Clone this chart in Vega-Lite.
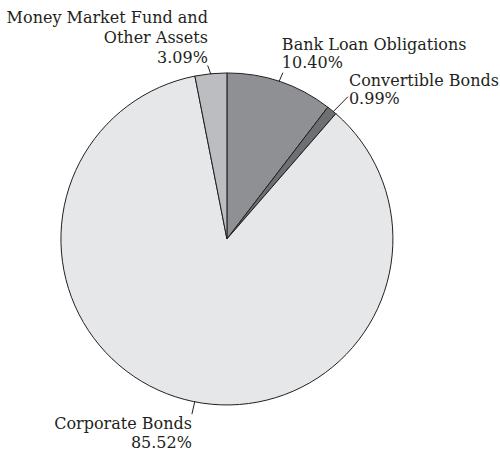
{
  "$schema": "https://vega.github.io/schema/vega-lite/v6.json",
  "width": 500,
  "height": 451,
  "autosize": {"type": "fit", "contains": "padding"},
  "padding": 0,
  "background": "white",
  "config": {"view": {"stroke": null}},
  "datasets": {
    "slices": [
      {"category": "Bank Loan Obligations", "share": 10.40, "rank": 1},
      {"category": "Convertible Bonds", "share": 0.99, "rank": 2},
      {"category": "Corporate Bonds", "share": 85.52, "rank": 3},
      {"category": "Money Market Fund and Other Assets", "share": 3.09, "rank": 4}
    ],
    "leaders": [
      {"category": "Money Market Fund and Other Assets", "x": -9.6, "y": 99.5, "x2": -11.6, "y2": 105.0},
      {"category": "Bank Loan Obligations", "x": 31.3, "y": 95.0, "x2": 33.7, "y2": 100.6},
      {"category": "Convertible Bonds", "x": 63.9, "y": 76.9, "x2": 72.9, "y2": 86.1},
      {"category": "Corporate Bonds", "x": -19.3, "y": -98.1, "x2": -21.1, "y2": -106.0}
    ],
    "labels": [
      {"category": "Money Market Fund and Other Assets", "text": "Money Market Fund and\nOther Assets\n3.09%", "x": -11.45, "y": 130.4},
      {"category": "Bank Loan Obligations", "text": "Bank Loan Obligations\n10.40%", "x": 33.1, "y": 114.3},
      {"category": "Convertible Bonds", "text": "Convertible Bonds\n0.99%", "x": 73.5, "y": 92.5},
      {"category": "Corporate Bonds", "text": "Corporate Bonds\n85.52%", "x": -21.1, "y": -115.1}
    ]
  },
  "layer": [
    {
      "data": {"name": "slices"},
      "mark": {"type": "arc", "outerRadius": 166, "stroke": "#231f20", "strokeWidth": 1},
      "encoding": {
        "x": {"datum": 0, "type": "quantitative", "scale": {"domain": [-136.7, 164.5], "nice": false, "zero": false}, "axis": null},
        "y": {"datum": 0, "type": "quantitative", "scale": {"domain": [-127.1, 144.6], "nice": false, "zero": false}, "axis": null},
        "theta": {"field": "share", "type": "quantitative", "stack": true},
        "order": {"field": "rank", "type": "quantitative"},
        "color": {
          "field": "category",
          "type": "nominal",
          "scale": {
            "domain": ["Bank Loan Obligations", "Convertible Bonds", "Corporate Bonds", "Money Market Fund and Other Assets"],
            "range": ["#8f9093", "#6e6f72", "#e6e7e8", "#bcbdc0"]
          },
          "legend": null
        }
      }
    },
    {
      "data": {"name": "leaders"},
      "mark": {"type": "rule", "color": "#231f20", "strokeWidth": 1},
      "encoding": {
        "x": {"field": "x", "type": "quantitative", "scale": {"domain": [-136.7, 164.5], "nice": false, "zero": false}, "axis": null},
        "y": {"field": "y", "type": "quantitative", "scale": {"domain": [-127.1, 144.6], "nice": false, "zero": false}, "axis": null},
        "x2": {"field": "x2"},
        "y2": {"field": "y2"}
      }
    },
    {
      "data": {"name": "labels"},
      "transform": [{"filter": "datum.category === 'Money Market Fund and Other Assets'"}],
      "mark": {"type": "text", "align": "right", "baseline": "alphabetic", "font": "DejaVu Serif", "fontSize": 16, "fill": "#231f20", "lineBreak": "\n", "lineHeight": 20},
      "encoding": {
        "x": {"field": "x", "type": "quantitative", "scale": {"domain": [-136.7, 164.5], "nice": false, "zero": false}, "axis": null},
        "y": {"field": "y", "type": "quantitative", "scale": {"domain": [-127.1, 144.6], "nice": false, "zero": false}, "axis": null},
        "text": {"field": "text"}
      }
    },
    {
      "data": {"name": "labels"},
      "transform": [{"filter": "datum.category === 'Corporate Bonds'"}],
      "mark": {"type": "text", "align": "right", "baseline": "alphabetic", "font": "DejaVu Serif", "fontSize": 16, "fill": "#231f20", "lineBreak": "\n", "lineHeight": 18.5},
      "encoding": {
        "x": {"field": "x", "type": "quantitative", "scale": {"domain": [-136.7, 164.5], "nice": false, "zero": false}, "axis": null},
        "y": {"field": "y", "type": "quantitative", "scale": {"domain": [-127.1, 144.6], "nice": false, "zero": false}, "axis": null},
        "text": {"field": "text"}
      }
    },
    {
      "data": {"name": "labels"},
      "transform": [{"filter": "datum.category === 'Bank Loan Obligations' || datum.category === 'Convertible Bonds'"}],
      "mark": {"type": "text", "align": "left", "baseline": "alphabetic", "font": "DejaVu Serif", "fontSize": 16, "fill": "#231f20", "lineBreak": "\n", "lineHeight": 18.3},
      "encoding": {
        "x": {"field": "x", "type": "quantitative", "scale": {"domain": [-136.7, 164.5], "nice": false, "zero": false}, "axis": null},
        "y": {"field": "y", "type": "quantitative", "scale": {"domain": [-127.1, 144.6], "nice": false, "zero": false}, "axis": null},
        "text": {"field": "text"}
      }
    }
  ]
}
